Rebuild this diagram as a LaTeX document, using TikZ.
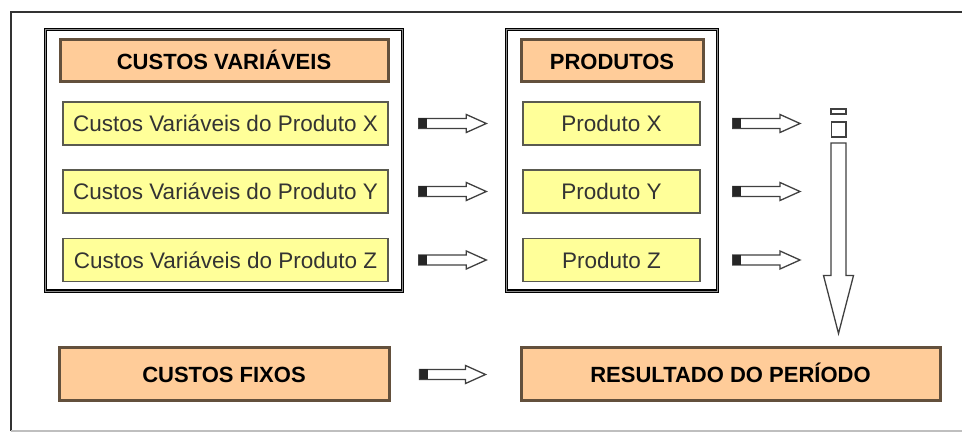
\documentclass[tikz,border=0pt]{standalone}
\usepackage{fontspec}
\setmainfont{Liberation Sans}
\usepackage{tikz}
\usetikzlibrary{calc}
\usetikzlibrary{fit}
\definecolor{peach}{RGB}{255,204,153}
\definecolor{darkbrown}{RGB}{99,80,60}
\definecolor{paleyellow}{RGB}{255,255,153}
\definecolor{boxgray}{RGB}{90,90,80}
\newcommand{\hollowarrow}[2]{%
  \draw[hollow] let \p1=(#1), \p2=(#2) in
    (\x1,\y1+2.5pt) -- (\x2-10pt,\y1+2.5pt) -- (\x2-10pt,\y1+4.5pt) -- (\x2,\y1)
    -- (\x2-10pt,\y1-4.5pt) -- (\x2-10pt,\y1-2.5pt) -- (\x1,\y1-2.5pt) -- cycle;
  \fill[tail] let \p1=(#1) in (\x1,\y1-2.5pt) rectangle (\x1+4pt,\y1+2.5pt);
}
\tikzset{
    common/.style={draw, rectangle, inner sep=0pt, text height=8.1pt, text depth=0pt, font=\fontsize{11.25pt}{13pt}\selectfont},
    header/.style={common, fill=peach, draw=darkbrown, line width=1.5pt, font=\fontsize{11pt}{13pt}\selectfont\bfseries, minimum height=21pt},
    bigbox/.style={header, minimum height=26.5pt},
    item/.style={common, fill=paleyellow, draw=boxgray, line width=0.7pt, text=black!80, minimum height=21.5pt},
    group/.style={draw=black, line width=0.75pt, double=black!45, double distance=0.4pt, inner xsep=6.5pt, inner ysep=4.5pt},
    hollow/.style={draw=black!75, fill=white, line width=0.65pt, line join=miter},
    tail/.style={fill=black!85}
}
\begin{document}
\begin{tikzpicture}[x=0.5pt, y=0.5pt]
  \useasboundingbox (0,0) rectangle (962,433);

  % outer frame
  \draw[black!80, line width=1.2pt] (11,2) -- (11,421) -- (962,421);
  \draw[black!25, line width=0.6pt] (11,2) -- (962,2);

  % custos variaveis
  \node[header, minimum width=164pt] (cvhead) at (224,372) {CUSTOS VARIÁVEIS};
  \node[item, minimum width=162.5pt] (cvx) at (225.5,309.5) {Custos Variáveis do Produto X};
  \node[item, minimum width=162.5pt] (cvy) at (225.5,241.5) {Custos Variáveis do Produto Y};
  \node[item, minimum width=162.5pt] (cvz) at (225.5,173) {Custos Variáveis do Produto Z};
  \node[group, fit=(cvhead)(cvx)(cvz)] (cvframe) {};

  % produtos
  \node[header, minimum width=91pt] (phead) at (612,372) {PRODUTOS};
  \node[item, minimum width=88.5pt] (px) at (611.5,309.5) {Produto X};
  \node[item, minimum width=88.5pt] (py) at (611.5,241.5) {Produto Y};
  \node[item, minimum width=88.5pt] (pz) at (611.5,173) {Produto Z};
  \node[group, fit=(phead)(px)(pz)] (pframe) {};

  % bottom row
  \node[bigbox, minimum width=165pt] (fixos) at (224,58.5) {CUSTOS FIXOS};
  \node[bigbox, minimum width=209.5pt] (res) at (730.5,58.5) {RESULTADO DO PERÍODO};

  \coordinate (vtop) at (838.5,290);
  \coordinate (vtip) at ($(res.north -| vtop)+(0,13)$);

  \hollowarrow{$(cvx.east)+(30,0)$}{$(px.west)+(-36,0)$}
  \hollowarrow{$(cvy.east)+(30,0)$}{$(py.west)+(-36,0)$}
  \hollowarrow{$(cvz.east)+(30,0)$}{$(pz.west)+(-36,0)$}

  \hollowarrow{$(px.east)+(32,0)$}{$(px.east -| vtop)+(-38.5,0)$}
  \hollowarrow{$(py.east)+(32,0)$}{$(py.east -| vtop)+(-38.5,0)$}
  \hollowarrow{$(pz.east)+(32,0)$}{$(pz.east -| vtop)+(-38.5,0)$}

  \hollowarrow{$(fixos.east)+(29,0)$}{$(res.west)+(-34,0)$}

  % down arrow
  \draw[hollow] let \p1=(vtop), \p2=(vtip) in
    (\x1-3.75pt,\y1) -- (\x1-3.75pt,\y2+29pt) -- (\x1-7.5pt,\y2+29pt) -- (\x2,\y2)
    -- (\x1+7.5pt,\y2+29pt) -- (\x1+3.75pt,\y2+29pt) -- (\x1+3.75pt,\y1) -- cycle;
  \draw[hollow] ($(vtop)+(-7,6)$) rectangle ($(vtop)+(7.5,21)$);
  \draw[hollow] ($(vtop)+(-7.5,29)$) rectangle ($(vtop)+(7.5,34)$);
\end{tikzpicture}
\end{document}
